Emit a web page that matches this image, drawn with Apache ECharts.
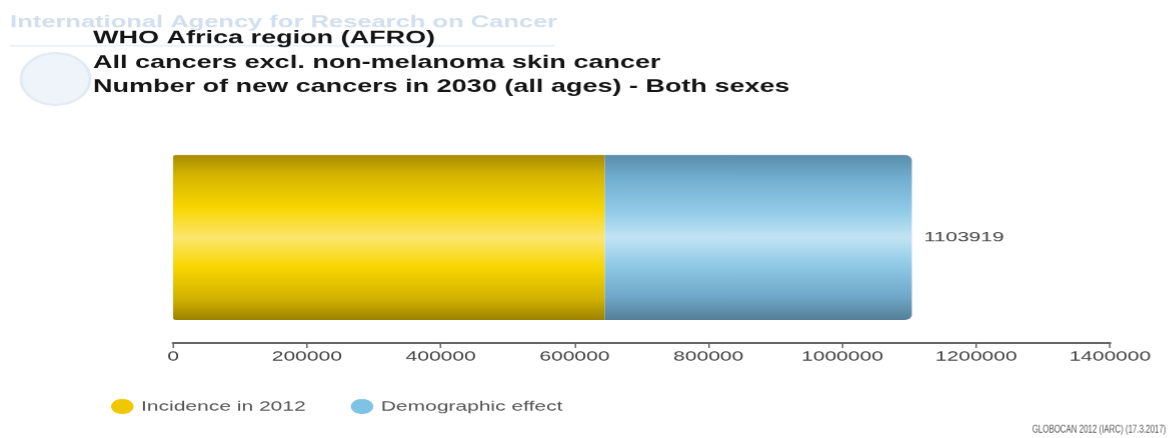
<!DOCTYPE html>
<html>
<head>
<meta charset="utf-8">
<script src="https://cdn.jsdelivr.net/npm/echarts@6/dist/echarts.min.js"></script>
<style>
html,body{margin:0;padding:0;background:#fff;overflow:hidden;}
#wrap{width:1168px;height:438px;overflow:hidden;}
#c{width:778.667px;height:438px;transform:scaleX(1.5);transform-origin:0 0;}
</style>
</head>
<body>
<div id="wrap"><div id="c"></div></div>
<script>
var categories = ['Both sexes'];
var incidence2012 = [645000];
var demographicEffect = [458919];
var totals = [1103919];
var xTicks = [0, 200000, 400000, 600000, 800000, 1000000, 1200000, 1400000];
var titleLines = ['WHO Africa region (AFRO)', 'All cancers excl. non-melanoma skin cancer', 'Number of new cancers in 2030 (all ages) - Both sexes'];
var legendNames = ['Incidence in 2012', 'Demographic effect'];

var chart = echarts.init(document.getElementById('c'), null, { devicePixelRatio: 1.5 });
function vgrad(stops) {
  return new echarts.graphic.LinearGradient(0, 0, 0, 1, stops.map(function (s) { return { offset: s[0], color: s[1] }; }));
}
var yellow = vgrad([[0, '#a88c00'], [0.12, '#d4b400'], [0.32, '#f8d600'], [0.5, '#fce66e'], [0.68, '#f8d600'], [0.88, '#d0b000'], [1, '#9c8200']]);
var blue = vgrad([[0, '#5a8eab'], [0.14, '#72aed0'], [0.34, '#92cbe8'], [0.5, '#c2e4f4'], [0.66, '#92cbe8'], [0.86, '#6fa8c8'], [1, '#547f98']]);
var FONT = 'Liberation Sans, Arial, sans-serif';

chart.setOption({
  animation: false,
  backgroundColor: '#ffffff',
  textStyle: { fontFamily: FONT },
  graphic: [
    { type: 'text', left: 6.7, top: 14, z: 0, style: { text: 'International Agency for Research on Cancer', fill: '#d2dfee', font: 'bold 17px ' + FONT } },
    { type: 'rect', left: 6.7, top: 45, z: 0, shape: { width: 363, height: 1.5 }, style: { fill: '#e8eef6' } },
    { type: 'ellipse', z: 0, shape: { cx: 37, cy: 79, rx: 23, ry: 26 }, style: { fill: '#eff4fa', stroke: '#e2eaf4', lineWidth: 2 } },
    { type: 'text', left: 62, top: 26, z: 5, style: { text: titleLines.join('\n'), fill: '#151515', lineHeight: 24.5, font: 'bold 18px ' + FONT } },
    { type: 'text', right: 2, top: 424, scaleX: 0.48, originX: 0, style: { text: 'GLOBOCAN 2012 (IARC) (17.3.2017)', fill: '#555', font: '11px ' + FONT } }
  ],
  legend: {
    left: 69, top: 394,
    icon: 'circle', itemWidth: 15, itemHeight: 15, itemGap: 30,
    textStyle: { fontSize: 14, color: '#555' },
    data: [
      { name: legendNames[0], itemStyle: { color: '#f0c800' } },
      { name: legendNames[1], itemStyle: { color: '#7fc3e4' } }
    ]
  },
  grid: { left: 115.33, right: 39.33, top: 132, bottom: 95 },
  xAxis: {
    type: 'value', min: xTicks[0], max: xTicks[xTicks.length - 1], interval: 200000,
    splitLine: { show: false },
    axisLine: { show: true, lineStyle: { color: '#666', width: 2 } },
    axisTick: { show: true, length: 5, lineStyle: { color: '#666' } },
    axisLabel: { color: '#444', fontSize: 14, margin: 7, formatter: function (v) { return String(v); } }
  },
  yAxis: {
    type: 'category', data: categories,
    axisLine: { show: false }, axisTick: { show: false }, axisLabel: { show: false }
  },
  series: [
    {
      name: legendNames[0], type: 'bar', stack: 't', barWidth: 165,
      data: incidence2012,
      itemStyle: { color: yellow, borderRadius: [2, 0, 0, 2] }
    },
    {
      name: legendNames[1], type: 'bar', stack: 't', barWidth: 165,
      data: demographicEffect,
      itemStyle: { color: blue, borderRadius: [0, 5, 5, 0] },
      label: {
        show: true, position: 'right', distance: 8, color: '#444', fontSize: 14,
        formatter: function (p) { return String(totals[p.dataIndex]); }
      }
    }
  ]
});
</script>
</body>
</html>
